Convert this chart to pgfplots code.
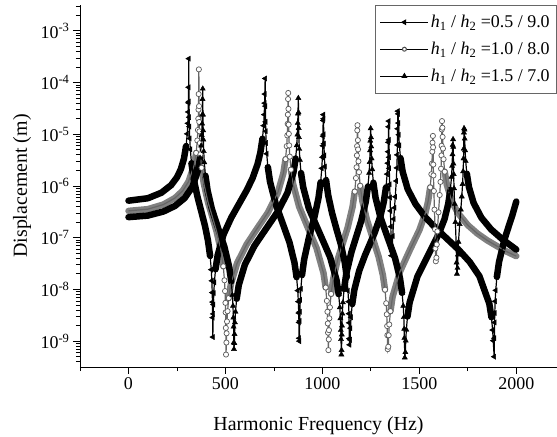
\documentclass[border=0pt]{standalone}
\usepackage{fontspec}
\setmainfont{Liberation Serif}
\usepackage{pgfplots}
\usepackage{pgfplotstable}
\pgfplotsset{compat=1.18}

% columns: f = frequency, v = displacement, b = thick band, k = marker shown
\pgfplotstableread{
f v b k
0 5.2e-7 1 0
100 5.8e-7 1 0
170 7.42e-7 1 0
220 1.04e-6 1 0
250 1.47e-6 1 0
270 2.11e-6 1 0
286 3.37e-6 1 0
297 5.9e-6 1 1
303 1.02e-5 0 1
306 1.63e-5 0 1
308 2.7e-5 0 1
309 4.06e-5 0 1
310 8.1e-5 0 1
311 2.9e-4 0 1
312 4.3e-5 0 1
313 2.14e-5 0 1
314 1.41e-5 0 1
316 8.3e-6 0 1
319 5.1e-6 0 1
325 2.75e-6 1 1
336 1.39e-6 1 0
355 6.4e-7 1 0
373 3.5e-7 1 0
395 1.67e-7 1 0
410 8.8e-8 1 0
421 4.45e-8 1 1
427 2.41e-8 0 1
430 1.47e-8 0 1
432 8.7e-9 0 1
433 5.7e-9 0 1
434 2.85e-9 0 1
435 1.2e-9 0 1
437 3.36e-9 0 1
438 5.1e-9 0 1
440 8.5e-9 0 1
443 1.37e-8 0 1
449 2.46e-8 1 1
460 4.6e-8 1 0
490 1.15e-7 1 0
530 2.44e-7 1 0
570 4.5e-7 1 0
610 8.3e-7 1 0
640 1.42e-6 1 0
665 2.6e-6 1 0
680 4.4e-6 1 0
691 8.2e-6 1 1
697 1.47e-5 0 1
700 2.4e-5 0 1
702 4e-5 0 1
703 6e-5 0 1
705 1.2e-4 0 1
706 3.5e-5 0 1
707 1.74e-5 0 1
708 1.15e-5 0 1
710 6.8e-6 0 1
713 4.2e-6 0 1
719 2.31e-6 1 1
730 1.21e-6 1 0
760 4.4e-7 1 0
793 2e-7 1 0
830 8.2e-8 1 0
856 3.3e-8 1 0
867 1.73e-8 1 1
873 9.5e-9 0 1
876 5.8e-9 0 1
878 3.5e-9 0 1
879 2.3e-9 0 1
880 1.14e-9 0 1
881 1.0e-9 0 1
883 2.46e-9 0 1
884 3.7e-9 0 1
886 6.3e-9 0 1
889 1.03e-8 0 1
895 1.9e-8 1 1
906 3.8e-8 1 0
930 9.8e-8 1 0
943 1.5e-7 1 0
960 2.6e-7 1 0
980 5.9e-7 1 0
991 1.18e-6 1 1
997 2.2e-6 0 1
1000 3.6e-6 0 1
1002 6e-6 0 1
1003 9.2e-6 0 1
1004 1.85e-5 0 1
1005 2.4e-5 0 1
1006 2.0e-5 0 1
1007 1.0e-5 0 1
1008 6.6e-6 0 1
1010 3.9e-6 0 1
1013 2.38e-6 0 1
1019 1.3e-6 1 1
1030 6.6e-7 1 0
1050 3e-7 1 0
1072 1.5e-7 1 0
1095 7.5e-8 1 0
1115 3.4e-8 1 0
1126 1.74e-8 1 1
1132 9.4e-9 0 1
1135 5.8e-9 0 1
1137 3.4e-9 0 1
1138 2.26e-9 0 1
1139 1.12e-9 0 1
1140 8.5e-10 0 1
1143 1.06e-9 0 1
1145 1.78e-9 0 1
1148 2.9e-9 0 1
1154 5.2e-9 1 1
1165 9.9e-9 1 0
1190 2.3e-8 1 0
1220 4.6e-8 1 0
1241 7e-8 1 0
1270 1.26e-7 1 0
1300 2.67e-7 1 0
1317 5e-7 1 0
1328 9.4e-7 1 1
1334 1.7e-6 0 1
1337 2.76e-6 0 1
1339 4.6e-6 0 1
1340 7e-6 0 1
1341 1.4e-5 0 1
1342 1.8e-5 0 1
1343 7.8e-6 0 1
1344 3.6e-6 0 1
1345 2.2e-6 0 1
1347 1.08e-6 0 1
1349 6e-7 0 1
1351 3.3e-7 0 1
1353 1.64e-7 0 1
1354 1e-7 0 1
1356 4.5e-8 0 1
1360 5.5e-8 0 1
1363 1.08e-7 0 1
1368 2.3e-7 0 1
1372 3.8e-7 0 1
1376 6.2e-7 0 1
1381 1.25e-6 0 1
1384 2.24e-6 0 1
1386 4e-6 0 1
1387 6.2e-6 0 1
1388 1.28e-5 0 1
1389 2.8e-5 0 1
1391 2.48e-5 0 1
1392 1.65e-5 0 1
1394 9.8e-6 0 1
1397 6.1e-6 0 1
1403 3.45e-6 1 1
1414 1.89e-6 1 0
1440 8.7e-7 1 0
1480 4.5e-7 1 0
1530 2.5e-7 1 0
1590 1.47e-7 1 0
1637 1e-7 1 0
1700 6e-8 1 0
1760 3.4e-8 1 0
1810 1.8e-8 1 0
1861 5.3e-9 1 0
1872 2.9e-9 1 1
1878 1.64e-9 0 1
1881 1.02e-9 0 1
1886 5e-10 0 1
1887 1.14e-9 0 1
1888 2.3e-9 0 1
1889 3.5e-9 0 1
1891 5.9e-9 0 1
1894 9.6e-9 0 1
1900 1.75e-8 1 1
1911 3.4e-8 1 0
1940 9.5e-8 1 0
1960 1.62e-7 1 0
1980 2.74e-7 1 0
2000 5e-7 1 0
}\tA

\pgfplotstableread{
f v b k
0 3.3e-7 1 0
100 3.57e-7 1 0
180 4.38e-7 1 0
240 5.86e-7 1 0
280 8.1e-7 1 0
310 1.22e-6 1 0
338 2.48e-6 1 0
349 4.36e-6 1 1
355 7.6e-6 0 1
358 1.21e-5 0 1
360 2.0e-5 0 1
361 3.0e-5 0 1
362 6.0e-5 0 1
363 1.8e-4 0 1
364 3.5e-5 0 1
365 1.73e-5 0 1
366 1.14e-5 0 1
368 6.75e-6 0 1
371 4.1e-6 0 1
377 2.25e-6 1 1
388 1.15e-6 1 0
410 4.9e-7 1 0
433 2.5e-7 1 0
455 1.3e-7 1 0
478 5.4e-8 1 0
489 2.8e-8 1 1
495 1.5e-8 0 1
498 9.3e-9 0 1
500 5.5e-9 0 1
501 3.6e-9 0 1
502 1.8e-9 0 1
503 5.5e-10 0 1
505 9.4e-10 0 1
506 1.42e-9 0 1
508 2.4e-9 0 1
511 3.8e-9 0 1
517 6.8e-9 1 1
528 1.27e-8 1 0
560 3.2e-8 1 0
610 7.5e-8 1 0
663 1.5e-7 1 0
720 3.1e-7 1 0
770 7.4e-7 1 0
799 1.78e-6 1 0
810 3.3e-6 1 1
816 5.9e-6 0 1
819 9.5e-6 0 1
821 1.59e-5 0 1
822 2.4e-5 0 1
823 4.8e-5 0 1
824 6.3e-5 0 1
825 3.1e-5 0 1
826 1.54e-5 0 1
827 1.02e-5 0 1
829 6.1e-6 0 1
832 3.7e-6 0 1
838 2.07e-6 1 1
849 1.09e-6 1 0
880 4e-7 1 0
927 1.5e-7 1 0
970 6.3e-8 1 0
1006 2.06e-8 1 0
1017 1.09e-8 1 1
1023 6e-9 0 1
1026 3.7e-9 0 1
1028 2.2e-9 0 1
1029 1.46e-9 0 1
1031 6.7e-10 0 1
1033 1.08e-9 0 1
1034 1.63e-9 0 1
1036 2.76e-9 0 1
1039 4.5e-9 0 1
1045 8.2e-9 1 1
1056 1.6e-8 1 0
1080 3.9e-8 1 0
1106 8e-8 1 0
1130 1.55e-7 1 0
1156 4e-7 1 0
1167 7.8e-7 1 1
1173 1.42e-6 0 1
1176 2.3e-6 0 1
1178 3.9e-6 0 1
1179 5.9e-6 0 1
1180 1.19e-5 0 1
1181 1.5e-5 0 1
1183 7.7e-6 0 1
1184 5.1e-6 0 1
1186 3e-6 0 1
1189 1.85e-6 0 1
1195 1.01e-6 1 1
1206 5.2e-7 1 0
1230 2.2e-7 1 0
1259 1e-7 1 0
1290 4.3e-8 1 0
1312 1.9e-8 1 0
1323 9.9e-9 1 1
1329 5.4e-9 0 1
1332 3.3e-9 0 1
1334 1.96e-9 0 1
1335 1.3e-9 0 1
1337 7e-10 0 1
1340 7.8e-10 0 1
1342 1.3e-9 0 1
1345 2.1e-9 0 1
1351 3.8e-9 1 1
1362 7.2e-9 1 0
1400 2.2e-8 1 0
1453 6e-8 1 0
1500 1.4e-7 1 0
1530 2.9e-7 1 0
1545 5e-7 1 0
1556 9.4e-7 1 1
1562 1.69e-6 0 1
1565 2.7e-6 0 1
1567 4.6e-6 0 1
1568 6.9e-6 0 1
1570 9.3e-6 0 1
1571 5.6e-6 0 1
1572 2.6e-6 0 1
1573 1.6e-6 0 1
1575 8e-7 0 1
1578 3.5e-7 0 1
1581 1.45e-7 0 1
1583 6.2e-8 0 1
1585 3.5e-8 0 1
1588 4.1e-8 0 1
1590 7.4e-8 0 1
1593 1.33e-7 0 1
1599 3.1e-7 0 1
1605 6.7e-7 0 1
1609 1.2e-6 0 1
1612 2.16e-6 0 1
1614 3.9e-6 0 1
1615 6e-6 0 1
1616 1.24e-5 0 1
1617 1.8e-5 0 1
1619 1.34e-5 0 1
1620 8.9e-6 0 1
1622 5.3e-6 0 1
1625 3.3e-6 0 1
1631 1.89e-6 1 1
1642 1.05e-6 1 0
1668 5e-7 1 0
1700 2.97e-7 1 0
1750 1.75e-7 1 0
1800 1.2e-7 1 0
1850 8.9e-8 1 0
1900 6.9e-8 1 0
1950 5.4e-8 1 0
2000 4.4e-8 1 0
}\tB

\pgfplotstableread{
f v b k
0 2.5e-7 1 0
100 2.68e-7 1 0
180 3.21e-7 1 0
240 4.12e-7 1 0
290 5.86e-7 1 0
330 9.7e-7 1 0
358 1.98e-6 1 0
369 3.48e-6 1 1
375 6.05e-6 0 1
378 9.6e-6 0 1
380 1.6e-5 0 1
381 2.4e-5 0 1
382 4.8e-5 0 1
383 7.6e-5 0 1
384 2.4e-5 0 1
385 1.19e-5 0 1
386 7.9e-6 0 1
388 4.7e-6 0 1
391 2.87e-6 0 1
397 1.58e-6 1 1
408 8.2e-7 1 0
430 3.6e-7 1 0
463 1.5e-7 1 0
495 6.6e-8 1 0
519 2.76e-8 1 0
530 1.43e-8 1 1
536 7.8e-9 0 1
539 4.8e-9 0 1
541 2.85e-9 0 1
542 1.9e-9 0 1
543 9.4e-10 0 1
544 7e-10 0 1
546 9.1e-10 0 1
547 1.37e-9 0 1
549 2.3e-9 0 1
552 3.7e-9 0 1
558 6.6e-9 1 1
569 1.22e-8 1 0
600 3e-8 1 0
650 7e-8 1 0
710 1.5e-7 1 0
770 3.2e-7 1 0
820 7.4e-7 1 0
851 1.84e-6 1 0
862 3.4e-6 1 1
868 6.1e-6 0 1
871 9.8e-6 0 1
873 1.65e-5 0 1
874 2.5e-5 0 1
876 5e-5 0 1
877 2.65e-5 0 1
878 1.32e-5 0 1
879 8.8e-6 0 1
881 5.2e-6 0 1
884 3.2e-6 0 1
890 1.78e-6 1 1
901 9.5e-7 1 0
930 3.7e-7 1 0
987 1.2e-7 1 0
1040 4.2e-8 1 0
1073 1.52e-8 1 0
1084 8.1e-9 1 1
1090 4.5e-9 0 1
1093 2.76e-9 0 1
1095 1.64e-9 0 1
1096 1.09e-9 0 1
1098 5.5e-10 0 1
1099 6.7e-10 0 1
1100 1.34e-9 0 1
1101 2e-9 0 1
1103 3.4e-9 0 1
1106 5.6e-9 0 1
1112 1.02e-8 1 1
1123 2e-8 1 0
1150 5.3e-8 1 0
1173 1e-7 1 0
1200 2.1e-7 1 0
1224 5e-7 1 0
1235 9.8e-7 1 1
1241 1.79e-6 0 1
1244 2.9e-6 0 1
1246 4.9e-6 0 1
1247 7.5e-6 0 1
1249 1.3e-5 0 1
1251 8.7e-6 0 1
1252 5.8e-6 0 1
1254 3.4e-6 0 1
1257 2.1e-6 0 1
1263 1.16e-6 1 1
1274 6e-7 1 0
1300 2.45e-7 1 0
1337 1e-7 1 0
1375 4e-8 1 0
1400 1.66e-8 1 0
1411 8.6e-9 1 1
1417 4.8e-9 0 1
1420 2.9e-9 0 1
1422 1.73e-9 0 1
1423 1.15e-9 0 1
1425 4.8e-10 0 1
1428 6.1e-10 0 1
1430 1.02e-9 0 1
1433 1.66e-9 0 1
1439 3e-9 1 1
1450 5.6e-9 1 0
1490 1.77e-8 1 0
1550 5e-8 1 0
1600 1.18e-7 1 0
1630 2.3e-7 1 0
1649 4.5e-7 1 0
1660 8.4e-7 1 1
1666 1.5e-6 0 1
1669 2.44e-6 0 1
1671 4.1e-6 0 1
1672 6.2e-6 0 1
1674 8e-6 0 1
1675 5.7e-6 0 1
1676 2.7e-6 0 1
1677 1.7e-6 0 1
1679 9e-7 0 1
1682 4.5e-7 0 1
1686 2e-7 0 1
1690 7.5e-8 0 1
1692 3.3e-8 0 1
1694 2.0e-8 0 1
1697 2.6e-8 0 1
1699 4.7e-8 0 1
1702 8.3e-8 0 1
1708 1.83e-7 0 1
1714 3.5e-7 0 1
1719 6.25e-7 0 1
1723 1.09e-6 0 1
1726 1.92e-6 0 1
1728 3.4e-6 0 1
1729 5.25e-6 0 1
1730 1.08e-5 0 1
1731 1.3e-5 0 1
1733 1.23e-5 0 1
1734 8.2e-6 0 1
1736 4.9e-6 0 1
1739 3.04e-6 0 1
1745 1.73e-6 1 1
1756 9.5e-7 1 0
1780 4.7e-7 1 0
1820 2.44e-7 1 0
1870 1.45e-7 1 0
1930 9.2e-8 1 0
2000 5.9e-8 1 0
}\tC

\begin{document}
\begin{tikzpicture}
\path[use as bounding box] (-80bp,-70bp) rectangle (477bp,367bp);
\begin{axis}[
  at={(0,0)}, anchor=south west,
  scale only axis, width=477bp, height=362bp,
  xmin=-250, xmax=2210,
  ymode=log, ymin=3.1623e-10, ymax=3.1623e-3,
  axis lines=left, axis line style={-, line width=0.9bp},
  xtick={0,500,1000,1500,2000},
  minor xtick={-250,250,750,1250,1750},
  ytick={1e-9,1e-8,1e-7,1e-6,1e-5,1e-4,1e-3},
  minor ytick={4e-10,5e-10,6e-10,7e-10,8e-10,9e-10,
    2e-9,3e-9,4e-9,5e-9,6e-9,7e-9,8e-9,9e-9,
    2e-8,3e-8,4e-8,5e-8,6e-8,7e-8,8e-8,9e-8,
    2e-7,3e-7,4e-7,5e-7,6e-7,7e-7,8e-7,9e-7,
    2e-6,3e-6,4e-6,5e-6,6e-6,7e-6,8e-6,9e-6,
    2e-5,3e-5,4e-5,5e-5,6e-5,7e-5,8e-5,9e-5,
    2e-4,3e-4,4e-4,5e-4,6e-4,7e-4,8e-4,9e-4,
    2e-3,3e-3},
  yticklabels={10\textsuperscript{-9},10\textsuperscript{-8},10\textsuperscript{-7},10\textsuperscript{-6},10\textsuperscript{-5},10\textsuperscript{-4},10\textsuperscript{-3}},
  tick align=outside, major tick length=7bp, minor tick length=4bp,
  tick style={black, line width=0.8bp},
  ticklabel style={font=\fontsize{18}{20}\selectfont},
  /pgf/number format/assume math mode=true,
  /pgf/number format/1000 sep={},
  xlabel={Harmonic Frequency (Hz)},
  ylabel={Displacement (m)},
  label style={font=\fontsize{20}{24}\selectfont},
  xlabel style={at={(axis description cs:0.5,0)}, anchor=base, yshift=-63bp},
  ylabel style={at={(axis description cs:0,0.5)}, anchor=base, yshift=53bp},
  unbounded coords=jump,
  legend style={at={(1,1)}, anchor=north east, draw=black!60, line width=0.6bp,
    font=\fontsize{18}{20}\selectfont, inner xsep=5bp, inner ysep=8bp,
    row sep=9bp, cells={anchor=west}},
  legend image code/.code={\draw[mark repeat=2,mark phase=2,#1] plot coordinates {(0bp,0bp) (24bp,0bp) (48bp,0bp)};},
]
% thick bands
\addplot[forget plot, draw=black!50, line width=6.5bp, line join=round, line cap=round,
  restrict expr to domain={\thisrow{b}}{0.5:1.5}] table[x=f,y=v]{\tB};
\addplot[forget plot, draw=black, line width=6.5bp, line join=round, line cap=round,
  restrict expr to domain={\thisrow{b}}{0.5:1.5}] table[x=f,y=v]{\tA};
\addplot[forget plot, draw=black, line width=6.5bp, line join=round, line cap=round,
  restrict expr to domain={\thisrow{b}}{0.5:1.5}] table[x=f,y=v]{\tC};
% thin lines
\addplot[forget plot, draw=black!60, line width=1.2bp] table[x=f,y=v]{\tB};
\addplot[forget plot, draw=black, line width=1.2bp] table[x=f,y=v]{\tA};
\addplot[forget plot, draw=black, line width=1.2bp] table[x=f,y=v]{\tC};
% markers
\addplot[forget plot, only marks, mark=*, mark size=2.6bp,
  mark options={fill=white, draw=black!65, line width=0.7bp},
  restrict expr to domain={\thisrow{k}}{0.5:1.5}] table[x=f,y=v]{\tB};
\addplot[forget plot, only marks, mark=triangle*, mark size=3bp,
  mark options={rotate=90, fill=black, draw=black},
  restrict expr to domain={\thisrow{k}}{0.5:1.5}] table[x=f,y=v]{\tA};
\addplot[forget plot, only marks, mark=triangle*, mark size=3bp,
  mark options={fill=black, draw=black},
  restrict expr to domain={\thisrow{k}}{0.5:1.5}] table[x=f,y=v]{\tC};
% legend
\addlegendimage{black, line width=1bp, mark=triangle*, mark size=2.5bp, mark options={rotate=90}}
\addlegendentry{\textit{h}\textsubscript{1} / \textit{h}\textsubscript{2} =0.5 / 9.0}
\addlegendimage{black, line width=1bp, mark=*, mark size=2bp, mark options={fill=white, draw=black!70}}
\addlegendentry{\textit{h}\textsubscript{1} / \textit{h}\textsubscript{2} =1.0 / 8.0}
\addlegendimage{black, line width=1bp, mark=triangle*, mark size=2.5bp}
\addlegendentry{\textit{h}\textsubscript{1} / \textit{h}\textsubscript{2} =1.5 / 7.0}
\end{axis}
\end{tikzpicture}
\end{document}
